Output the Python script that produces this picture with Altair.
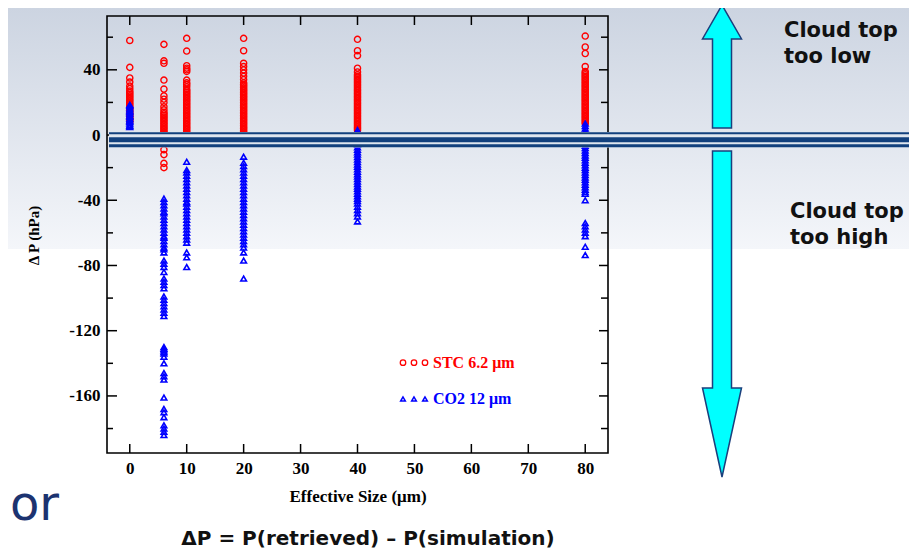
import altair as alt
import pandas as pd

# ---------------- data ----------------
sizes = [0, 6, 10, 20, 40, 80]

stc_0 = [58, 41.5, 35, 32.5, 30, 28.5, 27, 26, 25, 24, 23, 22, 21, 20, 19, 18, 17, 16, 15, 14, 13, 12, 11, 10, 9, 8]
stc_6 = [55.6, 45.5, 44, 33.7, 28.2, 24, 22, 20, 17.4, 15.5, 14, 13, 12, 11, 10, 9, 8, 7, 6, 5, 4, 3, 2, 1, 0,
         -1, -2, -3, -4, -5, -9, -12, -17.4, -20]
stc_10 = [59.3, 51.5, 42.5, 41, 40, 39, 33.7, 32, 31, 29.6, 28, 27, 26, 25, 24, 23, 22, 21, 20, 19, 18, 17, 16,
          15, 14, 13, 12, 11, 10, 9, 8, 7, 6, 5, 4, 3, 2, 1, 0, -1, -4]
stc_20 = [59.3, 51.7, 44, 42, 40, 38, 36, 34, 32, 31, 30, 29, 28, 27, 26, 25, 24, 23, 22, 21, 20, 19, 18, 17,
          16, 15, 14, 13, 12, 11, 10, 9, 8, 7, 6, 5, 4, 3, 2, 1, 0, -1, -2, -3, -4]
stc_40 = [58.7, 51.7, 48.7, 41, 38.7, 37, 36, 35, 34, 33, 32, 31, 30, 29, 28, 27, 26, 25, 24, 23, 22, 21, 20,
          19, 18, 17, 16, 15, 14, 13, 12, 11, 10, 9, 8, 7, 6, 5, 4, 3]
stc_80 = [60.7, 54, 50, 42, 39, 38, 37, 36, 35, 34, 33, 32, 31, 30, 29, 28, 27, 26, 25, 24, 23, 22, 21, 20,
          19, 18, 17, 16, 15, 14, 13, 12, 11, 10, 9, 8, 7]

co2_0 = [18.5, 18, 17, 16, 15, 14.5, 14, 13, 12, 11.5, 11, 10, 9, 8.5, 8, 7, 6, 5.5, 5]
co2_6 = [-39, -41, -43, -45, -47, -48, -50, -52, -54, -56, -58, -60, -62, -63, -65, -67, -69, -70, -72, -77,
         -79, -81, -84, -88, -90, -92, -94, -99, -101, -103, -105, -107, -109, -111, -130, -131, -132, -133,
         -134, -136, -140, -146, -148, -150, -161, -168, -170, -173, -178, -180, -182, -184]
co2_10 = [-16.4, -21.5, -23, -25, -27, -29, -31, -33, -35, -37, -39, -41, -42, -44, -46, -48, -50, -52, -54,
          -56, -58, -60, -62, -64, -66, -72, -75, -81]
co2_20 = [-13.3, -17, -19, -21, -23, -25, -27, -29, -31, -33, -35, -37, -39, -41, -43, -45, -47, -49, -51,
          -53, -55, -57, -59, -61, -63, -65, -67, -69, -72, -77, -88]
co2_40 = [3, 1.5, 0, -1.5, -3, -4.5, -6, -7.5, -9, -10.5, -12, -13.5, -15, -16.5, -18, -19.5, -21, -22.5, -24,
          -25.5, -27, -28.5, -30, -31.5, -33, -34.5, -36, -37.5, -39, -40.5, -42, -44, -46, -48, -50, -53]
co2_80 = [7, 5.5, 4, 2.5, 1, -0.5, -2, -3.5, -5, -6.5, -8, -9.5, -11, -12.5, -14, -15.5, -17, -18.5, -20,
          -21.5, -23, -24.5, -26, -27.5, -29, -30.5, -32, -33.5, -35, -36, -40, -54, -56, -58, -60, -62,
          -68.5, -73.6]

x_label_values = [0, 10, 20, 30, 40, 50, 60, 70, 80]
y_label_values = [-160, -120, -80, -40, 0, 40]
y_minor_values = [-180, -140, -100, -60, -20, 20, 60]

legend_labels = ["STC 6.2 μm", "CO2 12 μm"]
x_title = "Effective Size (μm)"
y_title = "Δ P (hPa)"
note_low = ["Cloud top", "too low"]
note_high = ["Cloud top", "too high"]
formula = "ΔP = P(retrieved) – P(simulation)"
side_text = "or"

# ---------------- tables ----------------
def table(columns):
    out = {"size": [], "dp": []}
    for s, vals in zip(sizes, columns):
        out["size"] += [s] * len(vals)
        out["dp"] += vals
    return pd.DataFrame(out)

stc_df = table([stc_0, stc_6, stc_10, stc_20, stc_40, stc_80])
co2_df = table([co2_0, co2_6, co2_10, co2_20, co2_40, co2_80])
xt_df = pd.DataFrame({"v": x_label_values})
ymaj_df = pd.DataFrame({"v": y_label_values})
ymin_df = pd.DataFrame({"v": y_minor_values})
one = pd.DataFrame({"k": [0]})

W, H = 501, 437
SERIF = "Liberation Serif"
SANS = "DejaVu Sans"

xscale = alt.Scale(domain=[-4, 84], nice=False, zero=False)
yscale = alt.Scale(domain=[-195, 73], nice=False, zero=False)

xaxis = alt.Axis(values=x_label_values, ticks=False, domain=False, grid=False, zindex=2,
                 labelFont=SERIF, labelFontWeight="bold", labelFontSize=17, labelColor="black",
                 labelPadding=7, title=x_title, titleFont=SERIF, titleFontWeight="bold",
                 titleFontSize=17, titleColor="black", titlePadding=12)
yaxis = alt.Axis(values=y_label_values, ticks=False, domain=False, grid=False, zindex=2,
                 labelExpr="datum.value < 0 ? '-' + abs(datum.value) : '' + datum.value",
                 labelFont=SERIF, labelFontWeight="bold", labelFontSize=17, labelColor="black",
                 labelPadding=7, title=y_title, titleFont=SERIF, titleFontWeight="bold",
                 titleFontSize=15, titleColor="black", titleAngle=270, titleX=-74, titleY=219,
                 titleAlign="center", titleBaseline="middle")

def X(f):
    return alt.X(f"{f}:Q", scale=xscale, axis=xaxis)

def Y(f):
    return alt.Y(f"{f}:Q", scale=yscale, axis=yaxis)

# background gradient of the slide
grad = alt.LinearGradient(gradient="linear",
                          stops=[alt.GradientStop(color="#ccd4e1", offset=0),
                                 alt.GradientStop(color="#f4f6fa", offset=1)],
                          x1=0, x2=0, y1=0, y2=1)
bg = alt.Chart(one).mark_rect(fill=grad, strokeWidth=0).encode(
    x=alt.value(-99), x2=alt.value(802), y=alt.value(-8), y2=alt.value(233))

stc = alt.Chart(stc_df).mark_point(shape="circle", filled=False, color="#ff0000", size=38,
                                   strokeWidth=1.4, opacity=1).encode(x=X("size"), y=Y("dp"))
co2 = alt.Chart(co2_df).mark_point(shape="triangle-up", filled=False, color="#0000ff", size=32,
                                   strokeWidth=1.6, opacity=1).encode(x=X("size"), y=Y("dp"))

tick_style = dict(color="black", strokeWidth=1.5)
xt_bot = alt.Chart(xt_df).mark_rule(**tick_style).encode(x=X("v"), y=alt.value(H), y2=alt.value(H - 9))
xt_top = alt.Chart(xt_df).mark_rule(**tick_style).encode(x=X("v"), y=alt.value(0), y2=alt.value(9))
yt_l = alt.Chart(ymaj_df).mark_rule(**tick_style).encode(y=Y("v"), x=alt.value(0), x2=alt.value(10))
yt_r = alt.Chart(ymaj_df).mark_rule(**tick_style).encode(y=Y("v"), x=alt.value(W), x2=alt.value(W - 9))
ym_l = alt.Chart(ymin_df).mark_rule(**tick_style).encode(y=Y("v"), x=alt.value(0), x2=alt.value(6))
ym_r = alt.Chart(ymin_df).mark_rule(**tick_style).encode(y=Y("v"), x=alt.value(W), x2=alt.value(W - 7))

frame = alt.Chart(one).mark_rect(fillOpacity=0, stroke="black", strokeWidth=1.6).encode(
    x=alt.value(0), x2=alt.value(W), y=alt.value(0), y2=alt.value(H))

# triple horizontal line of the slide
NAVY = "#12407d"
band = alt.Chart(one).mark_rect(color="#dfe6ef", strokeWidth=0).encode(
    x=alt.value(2), x2=alt.value(802), y=alt.value(116), y2=alt.value(131.5))
line1 = alt.Chart(one).mark_rule(color=NAVY, strokeWidth=2).encode(
    x=alt.value(2), x2=alt.value(802), y=alt.value(117.3))
line2 = alt.Chart(one).mark_rule(color=NAVY, strokeWidth=5).encode(
    x=alt.value(2), x2=alt.value(802), y=alt.value(123.8))
line3 = alt.Chart(one).mark_rule(color=NAVY, strokeWidth=3).encode(
    x=alt.value(2), x2=alt.value(802), y=alt.value(129.8))

# arrows
up_path = "M0,-61 L19.5,-27 L9.5,-27 L9.5,62 L-9.5,62 L-9.5,-27 L-19.5,-27 Z"
down_path = "M-9.5,-162 L9.5,-162 L9.5,75 L19.5,75 L0,164 L-19.5,75 L-9.5,75 Z"
arrow_style = dict(filled=True, fill="#00ffff", stroke="#1b3f7c", strokeWidth=1.5, size=4,
                   opacity=1, fillOpacity=1, strokeOpacity=1)
up = alt.Chart(one).mark_point(shape=up_path, **arrow_style).encode(x=alt.value(615), y=alt.value(50))
down = alt.Chart(one).mark_point(shape=down_path, **arrow_style).encode(x=alt.value(615), y=alt.value(297))

def text_layer(txt, x, y, **kw):
    return alt.Chart(pd.DataFrame({"t": [txt]})).mark_text(**kw).encode(
        text="t:N", x=alt.value(x), y=alt.value(y))

note_style = dict(font=SANS, fontWeight="bold", fontSize=21, color="#111111", align="left",
                  baseline="middle")
notes = [text_layer(note_low[0], 677, 15, **note_style),
         text_layer(note_low[1], 677, 41, **note_style),
         text_layer(note_high[0], 683, 196, **note_style),
         text_layer(note_high[1], 683, 222, **note_style)]

formula_t = text_layer(formula, 261, 523, font=SANS, fontWeight="bold", fontSize=20, color="#111111",
                       align="center", baseline="middle")
side_t = text_layer(side_text, -97, 504, font=SANS, fontSize=48, color="#1c3370", align="left",
                    baseline="alphabetic")

# legend drawn inside the plot
legend_layers = []
for dx in [296, 307, 318]:
    legend_layers.append(alt.Chart(one).mark_point(
        shape="circle", filled=False, color="#ff0000", size=30, strokeWidth=1.3, opacity=1).encode(
        x=alt.value(dx), y=alt.value(346.7)))
    legend_layers.append(alt.Chart(one).mark_point(
        shape="triangle-up", filled=False, color="#0000ff", size=22, strokeWidth=1.5, opacity=1).encode(
        x=alt.value(dx), y=alt.value(383)))
legend_layers.append(text_layer(legend_labels[0], 326, 346.5, font=SERIF, fontWeight="bold", fontSize=16,
                                color="#ff0000", align="left", baseline="middle"))
legend_layers.append(text_layer(legend_labels[1], 326, 382.5, font=SERIF, fontWeight="bold", fontSize=16,
                                color="#0000ff", align="left", baseline="middle"))

chart = alt.layer(
    bg, stc, co2, xt_bot, xt_top, yt_l, yt_r, ym_l, ym_r, frame,
    band, line1, line2, line3, up, down, *notes, formula_t, side_t, *legend_layers,
).properties(
    width=W, height=H, autosize=alt.AutoSizeParams(type="none"),
    padding={"left": 99, "top": 8, "right": 301, "bottom": 99}
).configure(background="white").configure_view(stroke=None)

chart.save("out.html", embed_options={"renderer": "svg", "actions": False})
